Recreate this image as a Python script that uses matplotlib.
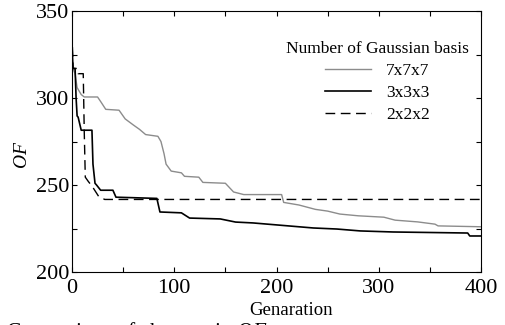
import matplotlib.pyplot as plt

plt.rcParams['font.family'] = ['Liberation Serif', 'DejaVu Serif']
plt.rcParams['mathtext.fontset'] = 'custom'
plt.rcParams['mathtext.it'] = 'Liberation Serif:italic'

# data
gen_7 = [0, 3, 5, 9, 12, 25, 28, 33, 46, 52, 60, 66, 72, 84, 87, 90, 92, 97, 107, 110,
         124, 128, 150, 158, 168, 205, 207, 222, 238, 250, 262, 280, 305, 316, 338, 355,
         358, 400]
of_7 = [318, 314, 306, 302, 300.6, 300.6, 298, 293.5, 293, 288, 284.5, 282, 279, 278,
        275, 268, 262, 258, 257, 255, 254.5, 251.5, 251, 246, 244.5, 244.5, 240, 238.5,
        236, 235, 233.3, 232.3, 231.5, 229.8, 228.8, 227.5, 226.5, 226]

gen_3 = [0, 1, 3, 4, 5, 6, 9, 19.5, 20.5, 22.5, 24, 28, 40, 43, 83, 86, 107, 115, 145,
         160, 177, 236, 259, 282, 314, 387, 389, 400]
of_3 = [330, 317, 317, 300, 289.7, 289, 281.5, 281.5, 262, 251, 250, 247, 247, 243,
        242.3, 234.5, 234, 231, 230.5, 228.7, 228.2, 225.3, 224.7, 223.6, 223, 222.4,
        220.7, 220.7]

gen_2 = [0, 1, 5, 6, 11, 12, 13, 16, 20, 26, 32, 400]
of_2 = [338, 317, 317, 314, 314, 280, 254.5, 252, 249, 243.5, 241.7, 241.7]

fig = plt.figure(figsize=(5.06, 3.25), dpi=100)
ax = fig.add_axes([0.1423, 0.1631, 0.8083, 0.8029])

ax.plot(gen_7, of_7, color='#8c8c8c', lw=1.0, label='7x7x7')
ax.plot(gen_3, of_3, color='black', lw=1.2, label='3x3x3')
ax.plot(gen_2, of_2, color='black', lw=1.0, dashes=(7, 4), label='2x2x2')

ax.set_xlim(0, 400)
ax.set_ylim(200, 350)
ax.set_xticks([0, 100, 200, 300, 400])
ax.set_xticks([50, 150, 250, 350], minor=True)
ax.set_yticks([200, 250, 300, 350])
ax.set_yticks([225, 275, 325], minor=True)
ax.tick_params(which='both', direction='in', top=True, right=True, length=3.5, width=0.8)
ax.tick_params(axis='x', labelsize=16, pad=5)
ax.tick_params(axis='y', labelsize=16, pad=2)

ax.set_xlabel('Genaration', fontsize=13.5, va='center')
ax.xaxis.set_label_coords(0.535, -0.146)
ax.set_ylabel('$OF$', fontsize=14, va='center')
ax.yaxis.set_label_coords(-0.122, 0.448)

leg = ax.legend(title='Number of Gaussian basis', loc='upper right', frameon=False,
                fontsize=12.5, title_fontsize=12.5, handlelength=2.65, handletextpad=0.86,
                labelspacing=0.33, borderaxespad=0.3, bbox_to_anchor=(1.0, 0.93))

fig.text(0.012, 0.016, 'Comparison of changes in $OF$', fontsize=15.5, va='top', ha='left')

fig.savefig('out.png', dpi=100)
